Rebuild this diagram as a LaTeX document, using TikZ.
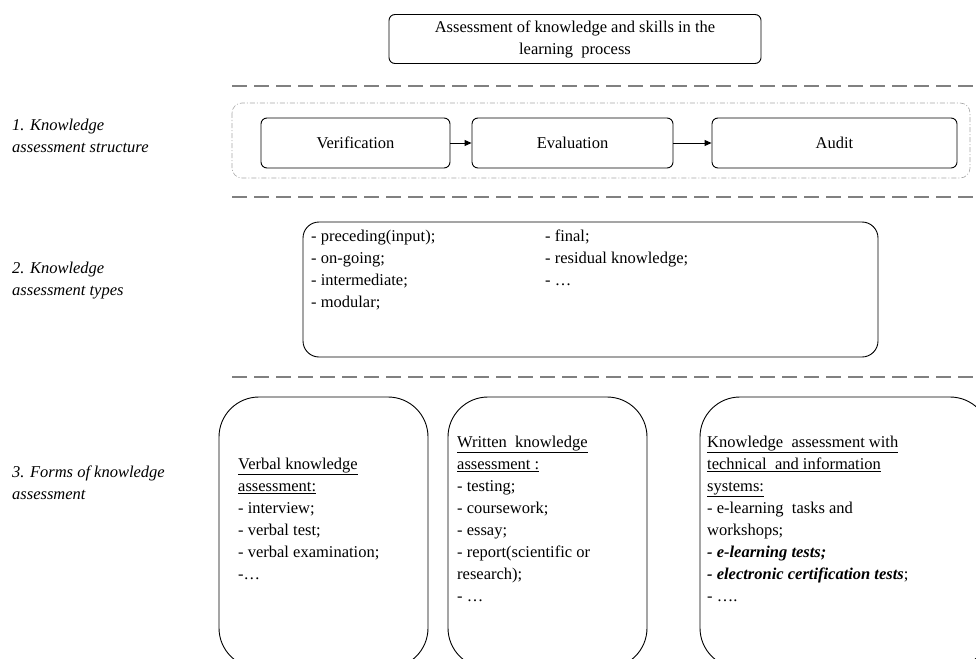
\documentclass[tikz,border=0pt]{standalone}
\usepackage{fontspec}
\setmainfont{Liberation Serif}
\usetikzlibrary{arrows.meta,positioning}
\tikzset{
  stagebox/.style={draw, rounded corners=6pt, line width=0.9pt, minimum height=50pt, inner sep=0pt},
  formbox/.style={draw, rounded corners=40pt, line width=0.9pt, minimum height=271pt, inner sep=0pt},
  sepline/.style={draw=black!50, line width=1.6pt, dash pattern=on 15pt off 7pt},
  arr/.style={-{Triangle[length=7pt,width=6pt]}, line width=0.9pt},
  rowlabel/.style={anchor=north west, align=left, inner sep=0pt, font=\itshape},
  listtext/.style={anchor=north west, align=left, inner sep=0pt},
}
\begin{document}
\fontsize{16.5}{22}\selectfont
\begin{tikzpicture}[x=1pt,y=-1pt]
\clip (0,0) rectangle (976,658);
\useasboundingbox (0,0) rectangle (976,658);
% title
\node[draw, rounded corners=6pt, line width=0.9pt, minimum width=372pt, minimum height=49pt, inner sep=0pt, align=center] (title) at (575,39)
  {Assessment of knowledge and skills in the\\learning\ \ process};
\draw[sepline] (232,86) -- (976,86);
% 1. structure
\node[rowlabel] (lab1) at (12,119) {1. Knowledge\\assessment structure};
\draw[draw=black!35, line width=0.6pt, rounded corners=10pt, dash pattern=on 5pt off 2pt on 1pt off 2pt] (232,103) rectangle (970,178);
\node[stagebox, minimum width=189pt] (verif) at (355.5,143) {Verification};
\node[stagebox, minimum width=201pt] (eval) at (572.5,143) {Evaluation};
\node[stagebox, minimum width=245pt] (audit) at (834.5,143) {Audit};
\draw[arr] (verif) -- (eval);
\draw[arr] (eval) -- (audit);
\draw[sepline] (232,197) -- (976,197);
% 2. types
\node[rowlabel] (lab2) at (12,262) {2. Knowledge\\assessment types};
\node[draw, rounded corners=16pt, line width=0.9pt, minimum width=575pt, minimum height=135pt, inner sep=0pt] (types) at (590.5,289.5) {};
\node[listtext] (typesa) at (311,230) {- preceding(input);\\- on-going;\\- intermediate;\\- modular;};
\node[listtext] (typesb) at (545,230) {- final;\\- residual knowledge;\\- …};
\draw[sepline] (232,377) -- (976,377);
% 3. forms
\node[rowlabel] (lab3) at (12,466) {3. Forms of knowledge\\assessment};
\node[formbox, minimum width=209pt] (verbal) at (323.5,532.5) {};
\node[formbox, minimum width=199pt] (written) at (547.5,532.5) {};
\node[formbox, minimum width=290pt] (tech) at (845,532.5) {};
\node[listtext] (verbaltxt) at (238,458) {\underline{Verbal knowledge}\\\underline{assessment:}\\- interview;\\- verbal test;\\- verbal examination;\\-…};
\node[listtext] (writtentxt) at (457,436) {\underline{Written\ \ knowledge}\\\underline{assessment :}\\- testing;\\- coursework;\\- essay;\\- report(scientific or\\research);\\- …};
\node[listtext] (techtxt) at (707,436) {\underline{Knowledge\ \ assessment with}\\\underline{technical\ \ and information}\\\underline{systems:}\\- e-learning\ \ tasks and\\workshops;\\\textbf{\textit{- e-learning tests;}}\\\textbf{\textit{- electronic certification tests}};\\- ….};
\end{tikzpicture}
\end{document}
